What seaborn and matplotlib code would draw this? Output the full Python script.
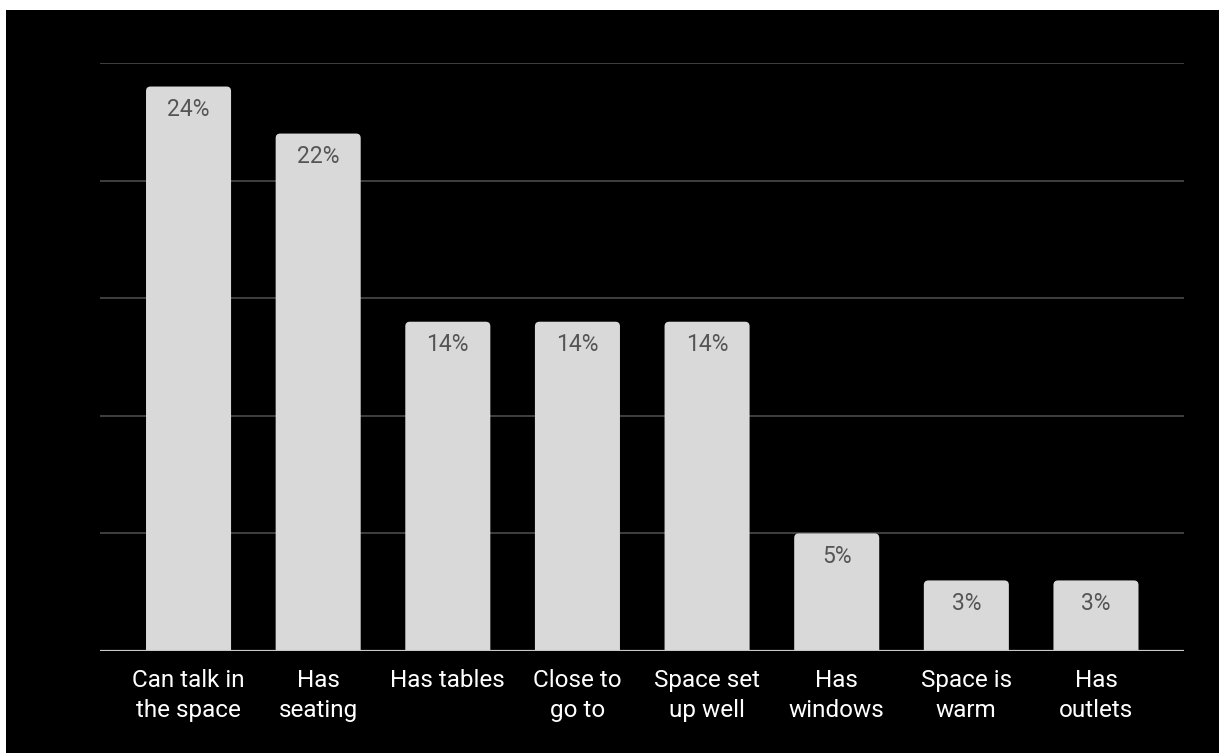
import matplotlib
matplotlib.use("Agg")
import matplotlib.pyplot as plt
from matplotlib.patches import Rectangle, FancyBboxPatch
import seaborn as sns
import pandas as pd

categories = ["Can talk in\nthe space", "Has\nseating", "Has tables", "Close to\ngo to",
              "Space set\nup well", "Has\nwindows", "Space is\nwarm", "Has\noutlets"]
values = [24, 22, 14, 14, 14, 5, 3, 3]
value_labels = ["24%", "22%", "14%", "14%", "14%", "5%", "3%", "3%"]

sns.set_theme(style="dark")
plt.rcParams["font.family"] = ["Roboto", "DejaVu Sans"]

W, H = 1219, 753
fig = plt.figure(figsize=(W / 100, H / 100), dpi=100, facecolor="white")
fig.patches.append(Rectangle((6 / W, 0), 1, (H - 10) / H, transform=fig.transFigure,
                             facecolor="black", edgecolor="none", zorder=-10))

ax = fig.add_axes([100 / W, (H - 651) / H, (1184 - 100) / W, (651 - 63) / H])
ax.set_facecolor("black")

df = pd.DataFrame({"cat": categories, "val": values})
sns.barplot(data=df, x="cat", y="val", color="#d9d9d9", saturation=1, width=0.656, ax=ax,
            edgecolor="none")

ax.set_xlim(-0.683, 7.679)
ax.set_ylim(0, 25)
ax.set_yticks([0, 5, 10, 15, 20, 25])
ax.set_yticklabels([])
ax.tick_params(axis="y", length=0)
ax.yaxis.grid(True, color="#444444", linewidth=1.3)
ax.xaxis.grid(False)
ax.set_axisbelow(True)
for s in ax.spines.values():
    s.set_visible(False)
ax.axhline(0, color="#c8c8c8", linewidth=1.6, zorder=5)

# rounded tops for the bars; the lower corners sit below the baseline and are clipped
aspect = (25 / 588) / (8.362 / 1084)
for p in list(ax.patches):
    x, w, h = p.get_x(), p.get_width(), p.get_height()
    p.set_visible(False)
    rb = FancyBboxPatch((x, -1), w, h + 1, boxstyle="round,pad=0,rounding_size=0.035",
                        mutation_aspect=aspect, facecolor="#d9d9d9", edgecolor="none",
                        zorder=3, clip_on=True)
    ax.add_patch(rb)

for i, (v, lab) in enumerate(zip(values, value_labels)):
    ax.annotate(lab, (i, v), xytext=(0, -8), textcoords="offset points",
                ha="center", va="top", fontsize=16.5, color="#555555", zorder=6)

ax.set_xlabel("")
ax.set_ylabel("")
ax.tick_params(axis="x", length=0, pad=13, labelsize=17.5, labelcolor="white")
for t in ax.get_xticklabels():
    t.set_linespacing(1.38)

fig.savefig("out.png", dpi=100, facecolor=fig.get_facecolor())
